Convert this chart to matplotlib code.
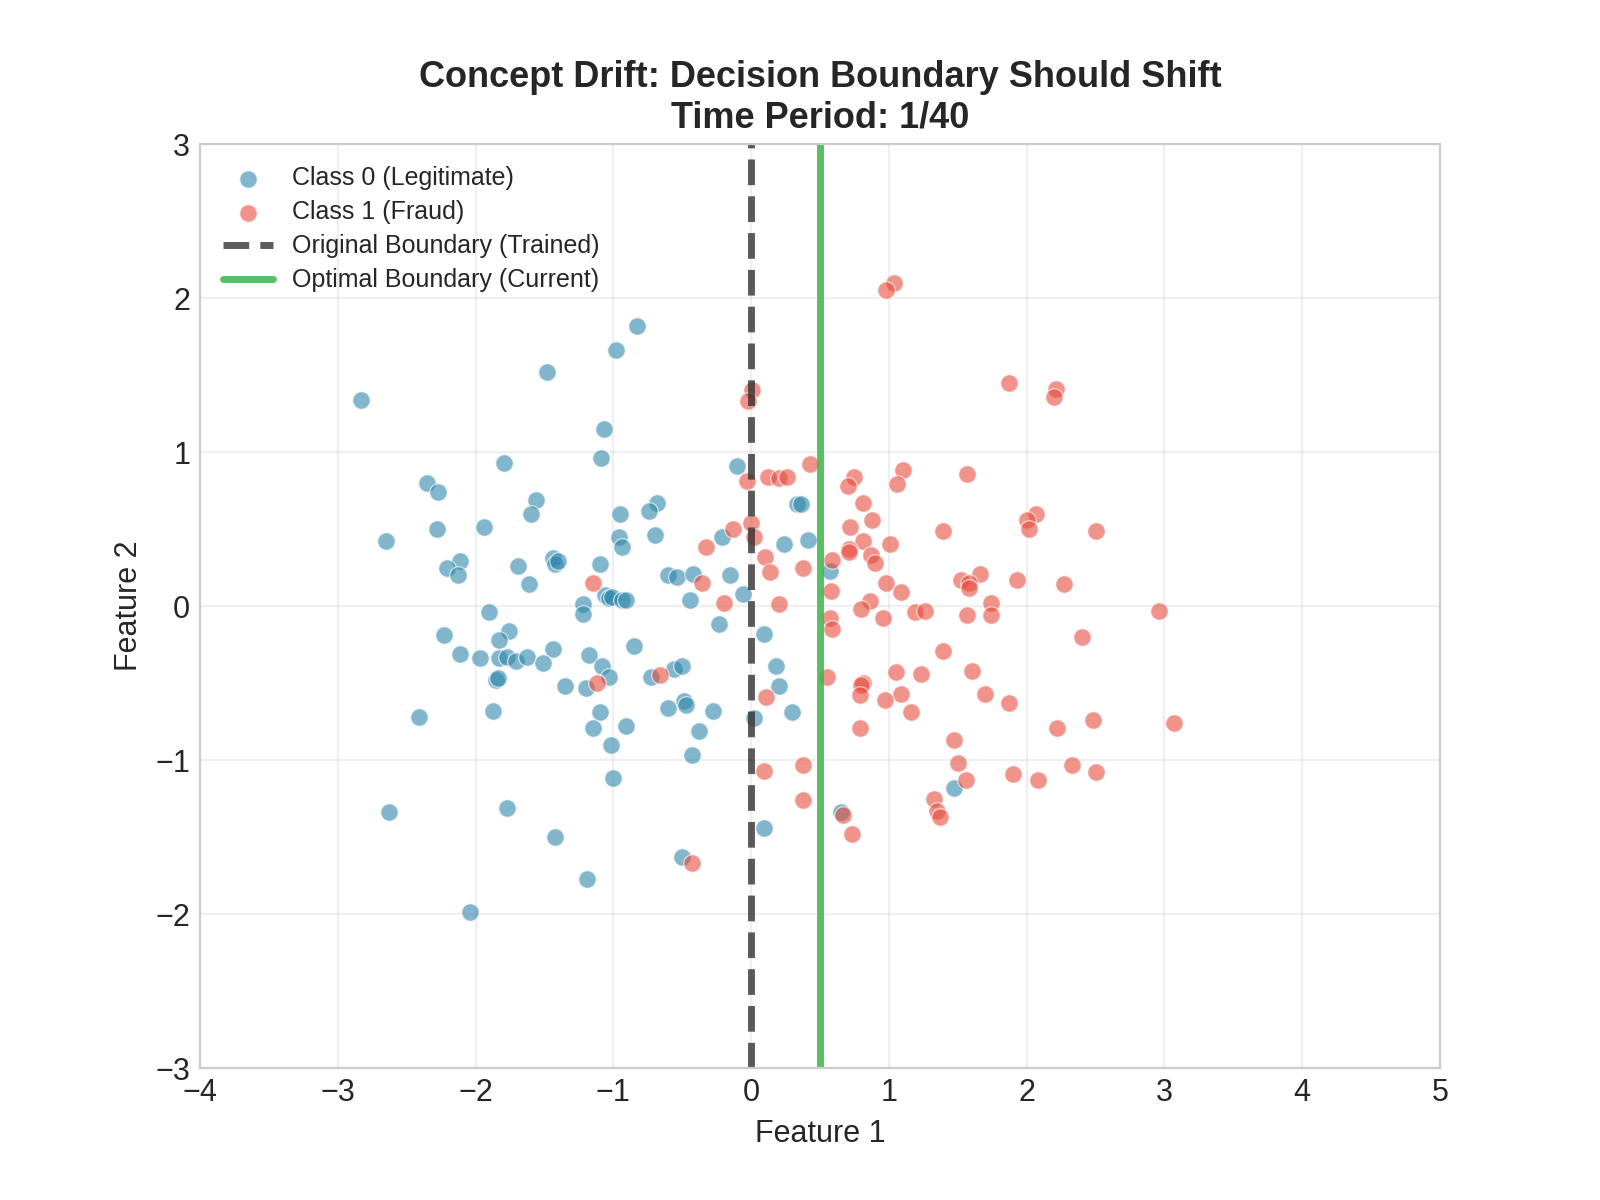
import matplotlib
matplotlib.use("Agg")
import matplotlib.pyplot as plt
import seaborn as sns
import numpy as np

# Class 0 (Legitimate) points
legit_x = [-2.83, -0.83, -0.98, -1.48, -1.07, -1.09, -1.79, -0.10, -2.35, -2.27,
           -1.56, -0.68, -0.74, -1.60, -0.95, 0.33, 0.36, -2.28, -1.94, -2.65,
           -0.70, -0.96, -0.21, 0.41, 0.24, -0.94, -1.44, -1.42, -1.40, -2.11,
           -1.10, -1.69, -2.21, -2.13, -0.60, -0.54, -0.42, -0.15, 0.57, -1.61,
           -1.06, -1.03, -1.01, -0.94, -0.91, -0.06, -0.44, -1.22, -1.22, -1.90,
           -0.23, -1.76, -2.23, -1.83, 0.09, -0.85, -1.44, -2.11, -1.97, -1.83,
           -1.77, -1.71, -1.63, -1.51, -1.18, -1.08, -0.56, -0.50, 0.18, -1.03,
           -0.73, -1.85, -1.84, -1.35, -1.20, 0.20, -0.60, -0.49, -0.47, -1.87,
           -1.10, -0.28, 0.30, -2.41, 0.02, -1.15, -0.91, -0.38, -1.02, -0.43,
           -1.00, 1.47, -2.63, -1.77, 0.65, -1.42, 0.09, -0.50, -1.19, -2.04]
legit_y = [1.34, 1.82, 1.66, 1.52, 1.15, 0.96, 0.93, 0.91, 0.80, 0.74,
           0.69, 0.67, 0.62, 0.60, 0.60, 0.66, 0.66, 0.50, 0.51, 0.42,
           0.46, 0.45, 0.45, 0.43, 0.40, 0.38, 0.31, 0.27, 0.29, 0.29,
           0.27, 0.26, 0.25, 0.20, 0.20, 0.19, 0.21, 0.20, 0.23, 0.14,
           0.07, 0.05, 0.06, 0.04, 0.04, 0.08, 0.04, 0.01, -0.05, -0.04,
           -0.12, -0.16, -0.19, -0.22, -0.18, -0.26, -0.28, -0.31, -0.34, -0.34,
           -0.33, -0.36, -0.33, -0.37, -0.32, -0.39, -0.41, -0.39, -0.39, -0.46,
           -0.46, -0.48, -0.47, -0.52, -0.53, -0.52, -0.66, -0.62, -0.64, -0.68,
           -0.69, -0.68, -0.69, -0.72, -0.73, -0.79, -0.78, -0.81, -0.90, -0.97,
           -1.12, -1.18, -1.34, -1.31, -1.34, -1.50, -1.44, -1.63, -1.77, -1.99]

# Class 1 (Fraud) points
fraud_x = [1.04, 0.98, 0.01, -0.02, 1.87, 2.21, 2.20, 0.43, 1.10, 1.57,
           0.75, 0.12, 0.20, 0.26, -0.03, 1.06, 0.70, 0.81, 2.07, 2.00,
           0.88, -0.13, 0.72, 2.02, 1.39, 2.50, 0.00, 0.02, 0.81, 1.01,
           -0.33, 0.71, 0.71, 0.87, 0.10, 0.90, 0.59, 0.38, 0.14, 1.66,
           1.52, 1.93, 1.58, 1.58, 0.98, -0.36, -1.15, 2.27, 0.58, 1.09,
           -0.20, 0.20, 0.86, 1.74, 0.80, 2.96, 1.19, 1.26, 0.57, 0.96,
           1.57, 1.74, 0.59, 2.40, 1.39, 1.60, 1.05, 1.23, 0.55, -0.66,
           -1.12, 0.81, 0.80, 1.70, 1.09, 0.79, 0.11, 0.97, 1.87, 1.16,
           2.48, 3.07, 2.22, 0.79, 1.47, 1.50, 0.38, 2.33, 0.09, 2.50,
           1.90, 1.56, 2.08, 1.33, 0.38, 1.35, 1.37, 0.67, 0.73, -0.43]
fraud_y = [2.10, 2.05, 1.40, 1.33, 1.45, 1.41, 1.36, 0.92, 0.88, 0.86,
           0.84, 0.84, 0.83, 0.84, 0.81, 0.79, 0.78, 0.67, 0.60, 0.56,
           0.56, 0.50, 0.51, 0.50, 0.49, 0.49, 0.54, 0.45, 0.42, 0.40,
           0.38, 0.37, 0.35, 0.33, 0.32, 0.28, 0.30, 0.25, 0.22, 0.21,
           0.17, 0.17, 0.15, 0.12, 0.15, 0.15, 0.15, 0.14, 0.10, 0.09,
           0.02, 0.01, 0.03, 0.02, -0.02, -0.03, -0.04, -0.03, -0.08, -0.08,
           -0.06, -0.06, -0.15, -0.20, -0.29, -0.42, -0.43, -0.44, -0.46, -0.45,
           -0.50, -0.50, -0.51, -0.57, -0.57, -0.58, -0.59, -0.61, -0.63, -0.69,
           -0.74, -0.76, -0.79, -0.79, -0.87, -1.02, -1.03, -1.03, -1.07, -1.08,
           -1.09, -1.13, -1.13, -1.25, -1.26, -1.33, -1.37, -1.36, -1.48, -1.67]

original_boundary = 0.0
optimal_boundary = 0.5
period, n_periods = 1, 40

sns.set_style("whitegrid")
plt.rcParams['font.family'] = ['Arial', 'Liberation Sans', 'DejaVu Sans']

fig, ax = plt.subplots(figsize=(8, 6), dpi=200)

ax.scatter(legit_x, legit_y, c='#2E86AB', alpha=0.6, s=40,
           edgecolors='white', linewidth=0.5, label='Class 0 (Legitimate)')
ax.scatter(fraud_x, fraud_y, c='#E74C3C', alpha=0.6, s=40,
           edgecolors='white', linewidth=0.5, label='Class 1 (Fraud)')

ax.axvline(original_boundary, color='#333333', linestyle='--', linewidth=2.5,
           alpha=0.8, label='Original Boundary (Trained)')
ax.axvline(optimal_boundary, color='#3CB44B', linestyle='-', linewidth=2.5,
           alpha=0.85, label='Optimal Boundary (Current)')

ax.set_xlim(-4, 5)
ax.set_ylim(-3, 3)
ax.set_xlabel('Feature 1', fontsize=11)
ax.set_ylabel('Feature 2', fontsize=11)
ax.tick_params(labelsize=11, length=0)
ax.grid(True, alpha=0.3)
ax.set_title(f'Concept Drift: Decision Boundary Should Shift\nTime Period: {period}/{n_periods}',
             fontsize=13, fontweight='bold')
ax.legend(loc='upper left', fontsize=9, frameon=False, labelspacing=0.4)

fig.savefig('out.png', dpi=200)
